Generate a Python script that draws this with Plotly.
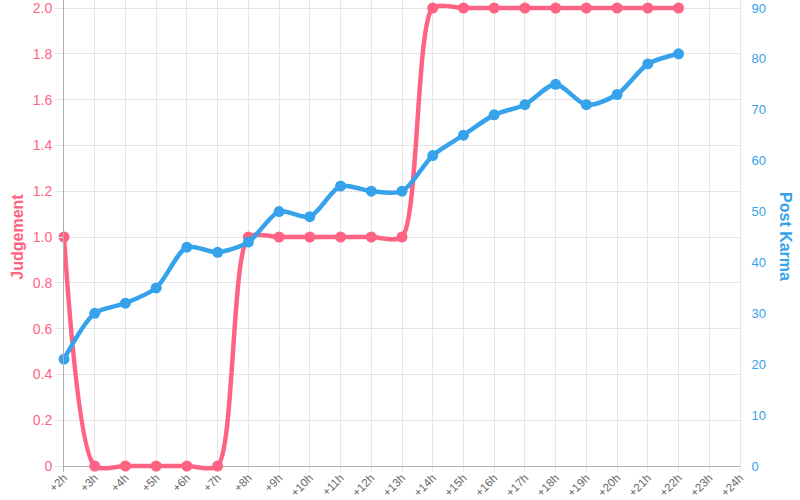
import plotly.graph_objects as go

hours = ["+2h", "+3h", "+4h", "+5h", "+6h", "+7h", "+8h", "+9h", "+10h", "+11h", "+12h",
         "+13h", "+14h", "+15h", "+16h", "+17h", "+18h", "+19h", "+20h", "+21h", "+22h",
         "+23h", "+24h"]
judgement = [1, 0, 0, 0, 0, 0, 1, 1, 1, 1, 1, 1, 2, 2, 2, 2, 2, 2, 2, 2, 2]
post_karma = [21, 30, 32, 35, 43, 42, 44, 50, 49, 55, 54, 54, 61, 65, 69, 71, 75, 71, 73, 79, 81]
left_ticks = [0, 0.2, 0.4, 0.6, 0.8, 1.0, 1.2, 1.4, 1.6, 1.8, 2.0]
left_labels = ["0", "0.2", "0.4", "0.6", "0.8", "1.0", "1.2", "1.4", "1.6", "1.8", "2.0"]

RED = "#ff6384"
BLUE = "#36a2eb"
FONT = "Liberation Sans, Arial, sans-serif"

# value span 0..top occupies y=8..466 px; pad 8 px above and 6 px below so
# thick lines at the extremes are not clipped
SPAN = 458
TOP_PAD = 8
BOT_PAD = 6
PLOT_H = SPAN + TOP_PAD + BOT_PAD
left_range = [-2.0 * BOT_PAD / SPAN, 2.0 * (1 + TOP_PAD / SPAN)]
right_range = [-90 * BOT_PAD / SPAN, 90 * (1 + TOP_PAD / SPAN)]

fig = go.Figure()
fig.add_trace(go.Scatter(
    x=hours[:len(judgement)], y=judgement, name="Judgement", yaxis="y",
    mode="lines+markers", line=dict(color=RED, width=4.5, shape="spline", smoothing=0.7),
    marker=dict(color=RED, size=11), cliponaxis=False))
fig.add_trace(go.Scatter(
    x=hours[:len(post_karma)], y=post_karma, name="Post Karma", yaxis="y2",
    mode="lines+markers", line=dict(color=BLUE, width=4.5, shape="spline", smoothing=0.8),
    marker=dict(color=BLUE, size=11), cliponaxis=False))

fig.update_layout(
    width=800, height=500,
    margin=dict(l=64, r=60, t=0, b=500 - PLOT_H),
    paper_bgcolor="white", plot_bgcolor="white",
    showlegend=False,
    font=dict(family=FONT, size=12, color="#666"),
    xaxis=dict(type="category", categoryorder="array", categoryarray=hours,
               range=[0, len(hours) - 1], tickangle=-45, automargin=False,
               showgrid=True, gridcolor="#e5e5e5", gridwidth=1,
               showline=False, ticks="", ticklabelstandoff=-4,
               ticklabeloverflow="allow",
               tickfont=dict(size=11.5, color="#666"), zeroline=False),
    yaxis=dict(range=left_range, tickvals=left_ticks, ticktext=left_labels, automargin=False,
               showgrid=True, gridcolor="#e5e5e5", gridwidth=1,
               showline=True, linecolor="#b0b0b0", linewidth=1,
               ticks="outside", ticklen=8, tickcolor="#e5e5e5",
               ticklabeloverflow="allow",
               tickfont=dict(size=14, color=RED),
               zeroline=True, zerolinecolor="#b0b0b0", zerolinewidth=1),
    yaxis2=dict(range=right_range, tickvals=list(range(0, 91, 10)), overlaying="y",
                side="right", automargin=False,
                showgrid=False, showline=True, linecolor="#e5e5e5", linewidth=1,
                ticks="outside", ticklen=8, tickcolor="rgba(0,0,0,0)",
                ticklabeloverflow="allow",
                tickfont=dict(size=13, color=BLUE), zeroline=False),
    annotations=[
        dict(text="<b>Judgement</b>", xref="paper", yref="paper", x=-0.07,
             y=(BOT_PAD + SPAN / 2) / PLOT_H,
             xanchor="center", yanchor="middle", textangle=-90, showarrow=False,
             font=dict(family=FONT, size=16, color=RED)),
        dict(text="<b>Post Karma</b>", xref="paper", yref="paper", x=1.068,
             y=(BOT_PAD + SPAN / 2) / PLOT_H,
             xanchor="center", yanchor="middle", textangle=90, showarrow=False,
             font=dict(family=FONT, size=16, color=BLUE)),
    ],
)

fig.write_html("out.html", config={"displayModeBar": False},
               post_script="document.body.style.margin='0';")
